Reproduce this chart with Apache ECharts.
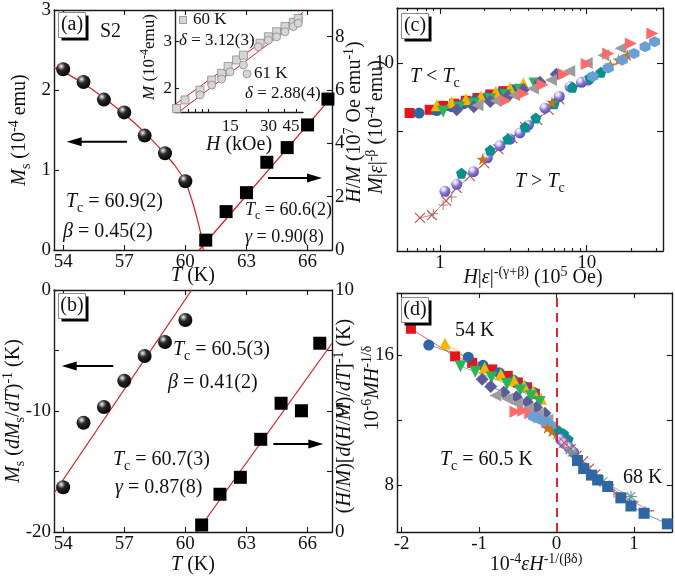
<!DOCTYPE html>
<html><head><meta charset="utf-8">
<script src="https://cdn.jsdelivr.net/npm/echarts@6.0.0/dist/echarts.min.js"></script>
<style>html,body{margin:0;padding:0;background:#fff}#chart{width:675px;height:576px}</style>
</head><body><div id="chart"></div>
<script>
// ===================== DATA =====================
// (a) main
const aSphT = [54,55,56,57,58,59,60];
const aSphMs = [2.26,2.10,1.88,1.72,1.43,1.21,0.86];
const aSqT = [61,62,63,64,65,66,67];
const aSqHM = [0.37,1.44,2.15,3.29,3.84,4.69,5.66];
const aFitMsT = [53.55,54,55,56,57,58,59,59.5,60,60.3,60.55,60.75,60.88];
const aFitMs  = [2.28,2.23,2.08,1.90,1.70,1.47,1.20,1.05,0.85,0.64,0.42,0.21,0];
const aFitHMT = [60.68,67.2];
const aFitHM  = [0,5.75];
const aXTicks = [54,57,60,63,66];
const aYTicks = [0,1,2,3];
const aY2Ticks = [0,2,4,6,8];
// (a) inset
const in60H = [5.66,6.59,8.65,10.7,12.8,14.4,16.8,19.0,25.7,29.9,34.7,40.4,47.0,51.4];
const in60M = [1.68,1.81,1.97,2.15,2.28,2.42,2.56,2.67,2.96,3.13,3.27,3.42,3.55,3.67];
const in61H = [6.0,8.65,10.7,12.8,14.9,19.0,24.9,29.9,34.7,40.4,47.0,51.4];
const in61M = [1.62,1.89,2.06,2.17,2.31,2.45,2.87,3.04,3.13,3.27,3.42,3.52];
const inFit60H = [5.5,56], inFit60M = [1.74,3.87];
const inFit61H = [5.9,56], inFit61M = [1.63,3.70];
const inXLabels = [15,30,45];
const inXTicks = [6,7,8,9,10,20,30,40,50];
const inYTicks = [2,3];
// (b)
const bSphT = [54,55,56,57,58,59,60];
const bSph  = [-16.3,-10.97,-9.67,-7.5,-5.45,-4.3,-2.48];
const bSqT  = [60.8,61.7,62.7,63.7,64.7,65.7,66.6];
const bSq   = [0.29,1.56,2.26,3.83,5.32,5.01,7.8];
const bFitLT = [53.55,60.31], bFitL = [-16.8,0];
const bFitRT = [60.56,67.2],  bFitR = [0,7.8];
const bYLabels = [-20,-10,0], bYTicks = [-20,-15,-10,-5,0];
const bY2Labels = [0,5,10], bY2Ticks = [0,2.5,5,7.5,10];
// (c) scaling plot (log-log), x = H|eps|^-(g+b), y = M|eps|^-b
const cH54=[0.62,0.85,1.05,1.25,1.5,1.8,2.2,2.7],     cM54=[6.0,6.2,6.45,6.6,6.8,7.0,7.25,7.5];
const cH55=[0.72,0.95,1.2,1.45,1.75,2.1,2.6,3.1],     cM55=[6.0,6.15,6.4,6.6,6.85,7.05,7.35,7.6];
const cH56=[0.95,1.2,1.5,1.9,2.4,3.0,3.7],            cM56=[6.5,6.7,6.9,7.1,7.45,7.75,8.1];
const cH57=[1.05,1.35,1.7,2.2,2.8,3.5,4.4],           cM57=[6.1,6.35,6.6,6.9,7.2,7.6,8.1];
const cH58=[1.3,1.7,2.2,2.9,3.7,4.8,6.2],             cM58=[6.2,6.4,6.75,7.1,7.6,8.2,8.9];
const cH59=[1.8,2.4,3.2,4.3,5.7,7.6,10,13,17],        cM59=[6.5,6.8,7.2,7.7,8.4,9.2,10.0,10.8,11.6];
const cH60=[2.8,3.7,5.0,7.0,10,14,20,28],             cM60=[6.8,7.3,8.0,8.9,9.9,11.0,12.2,13.5];
const cH61=[11,14,17.5,21,25,29],                     cM61=[8.7,9.5,10.3,11.0,11.8,12.4];
const cH62=[1.95,5.8,14.5,16.5,19],                   cM62=[3.75,6.7,9.8,10.3,10.8];
const cH63=[1.4,2.2,2.9,3.8,4.5,6.0,8.0,10.5,12.5],   cM63=[3.25,4.1,4.6,5.2,5.7,6.6,7.8,8.6,9.1];
const cH64=[1.08,1.3,1.69,2.1,2.56,3.0,3.5,4.0,5.2,6.5,7.7,9.2,10.2], cM64=[2.7,2.9,3.3,3.8,4.3,4.6,4.9,5.3,6.3,7.1,7.85,8.2,8.4];
const cH65=[0.73,0.88,1.1,1.3,1.6,2.0,2.5,3.1,3.8,4.6,5.5,6.5], cM65=[2.06,2.12,2.45,2.8,3.15,3.6,4.15,4.65,5.2,5.6,6.2,6.9];
const cH66=[0.9,1.05,1.2],                            cM66=[2.15,2.35,2.55];
const cHmin=0.509, cHmax=33.1, cMmin=1.47, cMmax=17.5;
const cXMinor=[0.6,0.7,0.8,0.9,2,3,4,5,6,7,8,9,20,30];
// (d) scaling plot, x = eps H^-1/(b d), y = M H^-1/d
const dX54=[-1.88,-1.31,-1.09,-0.83,-0.63,-0.5,-0.38,-0.28], dY54=[17.6,15.9,15.5,15.1,14.7,14.3,14.0,13.6];
const dX55=[-1.65,-1.14,-0.95,-0.74,-0.56,-0.42,-0.3],      dY55=[16.6,15.85,15.35,14.9,14.45,14.05,13.7];
const dX56=[-1.44,-0.93,-0.72,-0.55,-0.42,-0.3,-0.2],       dY56=[16.7,15.2,14.8,14.45,14.1,13.75,13.3];
const dX57=[-1.24,-1.05,-0.84,-0.64,-0.47,-0.33,-0.22],     dY57=[15.3,14.95,14.6,14.2,13.8,13.45,13.1];
const dX58=[-0.96,-0.85,-0.68,-0.52,-0.38,-0.26,-0.15],     dY58=[14.5,14.05,13.7,13.4,13.1,12.75,12.4];
const dX59=[-0.79,-0.64,-0.51,-0.37,-0.24,-0.12],           dY59=[13.5,13.3,13.0,12.7,12.35,12.0];
const dX60=[-0.53,-0.43,-0.34,-0.22,-0.12],                 dY60=[12.5,12.55,12.4,12.15,11.85];
const dX61=[-0.3,-0.22,-0.14,-0.07,-0.01],                  dY61=[12.2,12.05,11.85,11.65,11.4];
const dX62=[-0.12,-0.06,0.0],                               dY62=[11.5,11.3,11.15];
const dX63=[0.03,0.09,0.15],                                dY63=[11.3,11.15,10.8];
const dX64=[0.05,0.1,0.16,0.22],                            dY64=[10.8,10.55,10.3,10.0];
const dX65=[0.1,0.18,0.26,0.34,0.42,0.5],                   dY65=[10.6,10.2,9.8,9.45,9.0,8.65];
const dX66=[0.14,0.25,0.38,0.52,0.68],                      dY66=[10.3,9.75,9.15,8.6,8.0];
const dX67=[0.28,0.45,0.62,0.8,1.0,1.2],                    dY67=[9.4,8.8,8.15,7.5,6.95,6.4];
const dXas=[0.2,0.6,0.96],                                  dYas=[10.0,8.2,7.28];
const dX68=[0.27,0.35,0.45,0.53,0.66,0.83,0.96,1.13,1.43],  dY68=[9.5,9.0,8.6,8.3,7.9,7.2,6.7,6.25,5.6];
const dXmin=-2.06, dXmax=1.49, dYmin=5.1, dYmax=19.8;
const dXLabels=[-2,-1,0,1], dYLabels=[8,16], dYTicks=[8,12,16];

// ===================== STYLE =====================
const FF = 'Liberation Serif';
const AX = '#1a1a1a';
const RED = '#e3161e';
const SPH = {type:'radial',x:0.36,y:0.3,r:0.75,colorStops:[{offset:0,color:'#ffffff'},{offset:0.12,color:'#b0b0b0'},{offset:0.38,color:'#2a2a2a'},{offset:1,color:'#000'}]};
const PSPH = {type:'radial',x:0.36,y:0.3,r:0.8,colorStops:[{offset:0,color:'#ffffff'},{offset:0.2,color:'#ddd6ff'},{offset:0.5,color:'#8474d0'},{offset:1,color:'#5442a8'}]};
const HEX='path://M5,0L9.33,2.5L9.33,7.5L5,10L0.67,7.5L0.67,2.5Z';
const STAR='path://M50,0L61,35L98,35L68,57L79,91L50,70L21,91L32,57L2,35L39,35Z';
const PENT='path://M50,0L98,35L79,91L21,91L2,35Z';
const XP='path://M0,0L10,10M10,0L0,10';
const PLUS='path://M5,0L5,10M0,5L10,5';
const TEE='path://M0,0L0,10M0,5L10,5';
const AST='path://M5,0L5,10M0,5L10,5M1.5,1.5L8.5,8.5M8.5,1.5L1.5,8.5';
const TS = {
  54:{s:'rect',c:'#e8141c',sz:10},
  55:{s:'circle',c:'#2e66a3',sz:11},
  56:{s:'triangle',c:'#f4b400',sz:12},
  57:{s:'triangle',r:180,c:'#2fb35a',sz:12},
  58:{s:'diamond',c:'#5c5b9c',sz:13},
  59:{s:'triangle',r:90,c:'#9c9c9c',sz:12},
  60:{s:'triangle',r:-90,c:'#ff6a6a',sz:12},
  61:{s:HEX,c:'#6a9fd6',sz:11},
  62:{s:STAR,c:'#c8701c',sz:12},
  63:{s:PENT,c:'#0a8f8f',sz:11},
  64:{s:'circle',c:PSPH,sz:11},
  65:{s:XP,c:'#c24a48',sz:10,stroke:true},
  66:{s:PLUS,c:'#a88a7a',sz:10,stroke:true},
  67:{s:TEE,c:'#d04848',sz:9,stroke:true},
  as:{s:AST,c:'#5aa0a0',sz:12,stroke:true},
  68:{s:'rect',c:'#2f67a5',sz:11}
};

const zip = (xs, ys) => xs.map((x,i)=>[x, ys[i]]);
const zipL = (xs, ys) => xs.map((x,i)=>[Math.log10(x), Math.log10(ys[i])]);
const lg = v => Math.log10(v);
const fmtPow = v => String(Math.round(Math.pow(10, v)));
const fmtPlain = v => String(Math.round(v*1000)/1000);

function A(gridIndex, position, min, max, ticks, labels, o) {
  o = o || {};
  const fs = o.fs || 19;
  const f = o.fmt || fmtPlain;
  const lab = {show: !!labels, customValues: labels || [], color:'#111', fontFamily:FF, fontSize:fs, margin:o.m==null?3:o.m,
    formatter: v => '{t|' + f(v) + '}',
    rich:{t:{fontFamily:FF, fontSize:fs, color:'#111', lineHeight:fs}}};
  return {
    type:'value', gridIndex, position, min, max,
    axisLine:{show: o.line!==false, onZero:false, lineStyle:{color:AX, width:1.4}},
    axisTick:{show: !!ticks, inside:true, length:o.tl||5, customValues: ticks || [], lineStyle:{color:AX, width:1.1}},
    axisLabel: lab,
    splitLine:{show:false}, splitArea:{show:false}, axisPointer:{show:false}
  };
}

const xAxis = [
  A(0,'bottom',53.55,67.2,aXTicks,aXTicks),                                  //0
  A(0,'top',53.55,67.2,aXTicks,null),                                        //1
  A(1,'bottom',lg(5.5),lg(56),inXTicks.map(lg),inXLabels.map(lg),{fmt:fmtPow,tl:3,fs:17,m:6}), //2
  A(2,'bottom',53.55,67.2,aXTicks,aXTicks),                                  //3
  A(2,'top',53.55,67.2,aXTicks,null),                                        //4
  A(3,'bottom',lg(cHmin),lg(cHmax),[0,1],[0,1],{fmt:fmtPow,tl:6}),           //5
  A(3,'bottom',lg(cHmin),lg(cHmax),cXMinor.map(lg),null,{line:false,tl:3}),  //6
  A(3,'top',lg(cHmin),lg(cHmax),[0,1],null,{tl:6}),                          //7
  A(3,'top',lg(cHmin),lg(cHmax),cXMinor.map(lg),null,{line:false,tl:3}),     //8
  A(4,'bottom',dXmin,dXmax,dXLabels,dXLabels),                               //9
  A(4,'top',dXmin,dXmax,dXLabels,null)                                       //10
];
const yAxis = [
  A(0,'left',0,3,aYTicks,aYTicks),                                           //0
  A(0,'right',0,9,aY2Ticks,aY2Ticks),                                        //1
  A(1,'left',lg(1.63),lg(3.95),inYTicks.map(lg),inYTicks.map(lg),{fmt:fmtPow,fs:17,tl:4}), //2
  A(2,'left',-20,0,bYTicks,bYLabels),                                        //3
  A(2,'right',0,10,bY2Ticks,bY2Labels),                                      //4
  A(3,'left',lg(cMmin),lg(cMmax),[lg(5),1],[1],{fmt:fmtPow,tl:6}),           //5
  A(3,'right',lg(cMmin),lg(cMmax),[lg(5),1],null,{tl:6}),                    //6
  A(4,'left',dYmin,dYmax,dYTicks,dYLabels),                                  //7
  A(4,'right',dYmin,dYmax,dYTicks,null)                                      //8
];

const series = [];
function ln(xi, yi, data, o) {
  series.push(Object.assign({type:'line', xAxisIndex:xi, yAxisIndex:yi, data, symbol:'none', silent:true,
    lineStyle:{color:RED, width:1.2}, z:2, animation:false}, o||{}));
}
function sc(xi, yi, data, sym, size, color, o) {
  series.push(Object.assign({type:'scatter', xAxisIndex:xi, yAxisIndex:yi, data, symbol:sym, symbolSize:size, silent:true,
    itemStyle:{color, opacity:1}, z:3, animation:false}, o||{}));
}
function ts(xi, yi, key, data, withLine) {
  const t = TS[key];
  const item = t.stroke ? {color:'rgba(0,0,0,0)', borderColor:t.c, borderWidth:1.1, opacity:1} : {color:t.c, opacity:1};
  const base = {xAxisIndex:xi, yAxisIndex:yi, data, symbol:t.s, symbolSize:t.sz, symbolRotate:t.r||0,
    itemStyle:item, silent:true, animation:false, z:3};
  if (withLine) {
    series.push(Object.assign({type:'line', showSymbol:true, showAllSymbol:true,
      lineStyle:{color: typeof t.c === 'string' ? t.c : '#7060c0', width:0.7}}, base));
  } else {
    series.push(Object.assign({type:'scatter'}, base));
  }
  return series[series.length-1];
}

// (a)
ln(0,0,zip(aFitMsT,aFitMs),{smooth:0.3});
ln(0,1,zip(aFitHMT,aFitHM));
sc(0,0,zip(aSphT,aSphMs),'circle',14,SPH);
sc(0,1,zip(aSqT,aSqHM),'rect',13,'#000');
// inset
ln(2,2,zipL(inFit60H,inFit60M),{lineStyle:{color:RED,width:1}});
ln(2,2,zipL(inFit61H,inFit61M),{lineStyle:{color:RED,width:1}});
sc(2,2,zipL(in60H,in60M),'rect',8,'#d6d6d6',{itemStyle:{color:'#d6d6d6',borderColor:'#8a8a8a',borderWidth:0.8,opacity:1}});
sc(2,2,zipL(in61H,in61M),'circle',8,'#d6d6d6',{itemStyle:{color:'#d6d6d6',borderColor:'#8a8a8a',borderWidth:0.8,opacity:1}});
// (b)
ln(3,3,zip(bFitLT,bFitL));
ln(3,4,zip(bFitRT,bFitR));
sc(3,3,zip(bSphT,bSph),'circle',14,SPH);
sc(3,4,zip(bSqT,bSq),'rect',13,'#000');
// (c)
ts(5,5,54,zipL(cH54,cM54));
ts(5,5,55,zipL(cH55,cM55));
ts(5,5,56,zipL(cH56,cM56));
ts(5,5,57,zipL(cH57,cM57));
ts(5,5,58,zipL(cH58,cM58));
ts(5,5,59,zipL(cH59,cM59));
ts(5,5,60,zipL(cH60,cM60));
ts(5,5,65,zipL(cH65,cM65),true);
ts(5,5,66,zipL(cH66,cM66));
ts(5,5,64,zipL(cH64,cM64));
ts(5,5,63,zipL(cH63,cM63));
ts(5,5,62,zipL(cH62,cM62));
ts(5,5,61,zipL(cH61,cM61));
// (d)
const d54 = ts(9,7,54,zip(dX54,dY54),true);
d54.markLine = {silent:true, symbol:'none', animation:false, label:{show:false},
  lineStyle:{color:'#e8242a', type:[9,6], width:2}, data:[{xAxis:0}]};
ts(9,7,55,zip(dX55,dY55),true);
ts(9,7,56,zip(dX56,dY56),true);
ts(9,7,57,zip(dX57,dY57),true);
ts(9,7,58,zip(dX58,dY58),true);
ts(9,7,59,zip(dX59,dY59),true);
ts(9,7,60,zip(dX60,dY60),true);
ts(9,7,61,zip(dX61,dY61),true);
ts(9,7,62,zip(dX62,dY62),true);
ts(9,7,63,zip(dX63,dY63),true);
ts(9,7,64,zip(dX64,dY64),true);
ts(9,7,65,zip(dX65,dY65),true);
ts(9,7,66,zip(dX66,dY66),true);
ts(9,7,67,zip(dX67,dY67),true);
ts(9,7,'as',zip(dXas,dYas),true);
ts(9,7,68,zip(dX68,dY68),true);

// ===================== TEXT / GRAPHICS =====================
function RS(fs) {
  const s = Math.round(fs*0.68);
  const mk = (st, sz, extra) => Object.assign({font: st+' '+sz+'px "'+FF+'"', fontSize:sz, fontFamily:FF, fontStyle:st}, extra);
  return {
    n: mk('normal', fs, {lineHeight: Math.round(fs*1.3)}),
    i: mk('italic', fs, {lineHeight: Math.round(fs*1.3)}),
    sb: mk('normal', s, {verticalAlign:'bottom', lineHeight:s}),
    sp: mk('normal', s, {verticalAlign:'top', lineHeight:s}),
    isp: mk('italic', s, {verticalAlign:'top', lineHeight:s})
  };
}
function T(x, y, text, fs, o) {
  o = o || {};
  const al = o.align || 'left';
  return {type:'text', x, y, rotation:o.rot||0, z:100, silent:true,
    style:{text, x:0, y:0, fill:'#111', font: fs+'px "'+FF+'"', fontSize:fs, fontFamily:FF,
      align:al, textAlign:al, verticalAlign:'middle', textVerticalAlign:'middle', rich:RS(fs)}};
}
function arrow(x1, x2, y) {
  const dir = x2 < x1 ? 1 : -1;
  return [
    {type:'line', z:100, silent:true, shape:{x1, y1:y, x2:x2+dir*10, y2:y}, style:{stroke:'#000', lineWidth:2}},
    {type:'polygon', z:100, silent:true, shape:{points:[[x2,y],[x2+dir*15,y-4.5],[x2+dir*15,y+4.5]]}, style:{fill:'#000'}}
  ];
}
function box(x, y, lab) {
  return [
    {type:'rect', z:99, silent:true, shape:{x:x+3, y:y+3, width:27, height:25}, style:{fill:'#000'}},
    {type:'rect', z:100, silent:true, shape:{x, y, width:27, height:25}, style:{fill:'#fff', stroke:'#8a8a8a', lineWidth:1}},
    T(x+13.5, y+12.5, '{n|'+lab+'}', 20, {align:'center'})
  ];
}
const R90 = Math.PI/2;
const graphic = [].concat(
  box(58.5,12.5,'(a)'), box(58.5,293.5,'(b)'), box(401.5,13.5,'(c)'), box(401.5,297.5,'(d)'),
  [
    T(100,32,'{n|S2}',20),
    // (a) axis names
    T(20,130,'{i|M}{sb|s}{n| (10}{sp|-4}{n| emu)}',20,{align:'center',rot:R90}),
    T(193,276,'{i|T}{n| (K)}',20,{align:'center'}),
    T(355,122,'{i|H}{n|/}{i|M}{n| (10}{sp|7}{n| Oe emu}{sp|-1}{n|)}',20,{align:'center',rot:R90}),
    // inset names & legend
    T(150,57,'{i|M}{n| (10}{sp|-4}{n|emu)}',17,{align:'center',rot:R90}),
    T(239,145,'{i|H}{n| (kOe)}',20,{align:'center'}),
    T(193,20,'{n|60 K}',17),
    T(179,41,'{i|δ}{n| = 3.12(3)}',17),
    T(254,74,'{n|61 K}',17),
    T(245,94,'{i|δ}{n| = 2.88(4)}',17),
    {type:'rect', z:100, silent:true, shape:{x:179.5,y:16.5,width:7,height:7}, style:{fill:'#d6d6d6', stroke:'#8a8a8a', lineWidth:0.8}},
    {type:'circle', z:100, silent:true, shape:{cx:247,cy:74,r:4}, style:{fill:'#d6d6d6', stroke:'#8a8a8a', lineWidth:0.8}},
    // (a) annotations
    T(66,202,'{i|T}{sb|c}{n| = 60.9(2)}',20),
    T(63,232,'{i|β}{n| = 0.45(2)}',20),
    T(245,210,'{i|T}{sb|c}{n| = 60.6(2)}',18),
    T(245,237,'{i|γ}{n| = 0.90(8)}',18),
    // (b)
    T(14,411,'{i|M}{sb|s}{n| (}{i|dM}{sb|s}{n|/}{i|dT}{n|)}{sp|-1}{n| (K)}',20,{align:'center',rot:R90}),
    T(193,565,'{i|T}{n| (K)}',20,{align:'center'}),
    T(345,416,'{n|(}{i|H}{n|/}{i|M}{n|)[}{i|d}{n|(}{i|H}{n|/}{i|M}{n|)/}{i|dT}{n|]}{sp|-1}{n| (K)}',20,{align:'center',rot:R90}),
    T(173,350,'{i|T}{sb|c}{n| = 60.5(3)}',20),
    T(168,383,'{i|β}{n| = 0.41(2)}',20),
    T(113,460,'{i|T}{sb|c}{n| = 60.7(3)}',20),
    T(115,488,'{i|γ}{n| = 0.87(8)}',20),
    // (c)
    T(377,127,'{i|M}{n||}{i|ε}{n||}{sp|-β}{n| (10}{sp|-4}{n| emu)}',20,{align:'center',rot:R90}),
    T(533,278,'{i|H}{n||}{i|ε}{n||}{sp|-(γ+β)}{n| (10}{sp|5}{n| Oe)}',20,{align:'center'}),
    T(410,77,'{i|T}{n| < }{i|T}{sb|c}',20),
    T(515,182,'{i|T}{n| > }{i|T}{sb|c}',20),
    // (d)
    T(373,388,'{n|10}{sp|-6}{i|MH}{sp|-1/δ}',20,{align:'center',rot:R90}),
    T(536,565,'{n|10}{sp|-4}{i|εH}{sp|-1/(βδ)}',20,{align:'center'}),
    T(455,331,'{n|54 K}',20),
    T(440,460,'{i|T}{sb|c}{n| = 60.5 K}',20),
    T(623,478,'{n|68 K}',20)
  ],
  arrow(127,66.7,141.7), arrow(268,322,178), arrow(113.3,61.7,366), arrow(273.3,323.3,444)
);

const g = (left, top, width, height) => ({left, top, width, height, containLabel:false, outerBoundsMode:'none', show:false});
const option = {
  animation:false,
  backgroundColor:'#fff',
  textStyle:{fontFamily:FF},
  grid:[g(54,10,278,240), g(175,10,128,102), g(54,290,278,242), g(397,8,266,243), g(397,293,275,239)],
  xAxis, yAxis, series, graphic
};
const chart = echarts.init(document.getElementById('chart'), null, {renderer:'canvas'});
chart.setOption(option);
</script></body></html>
